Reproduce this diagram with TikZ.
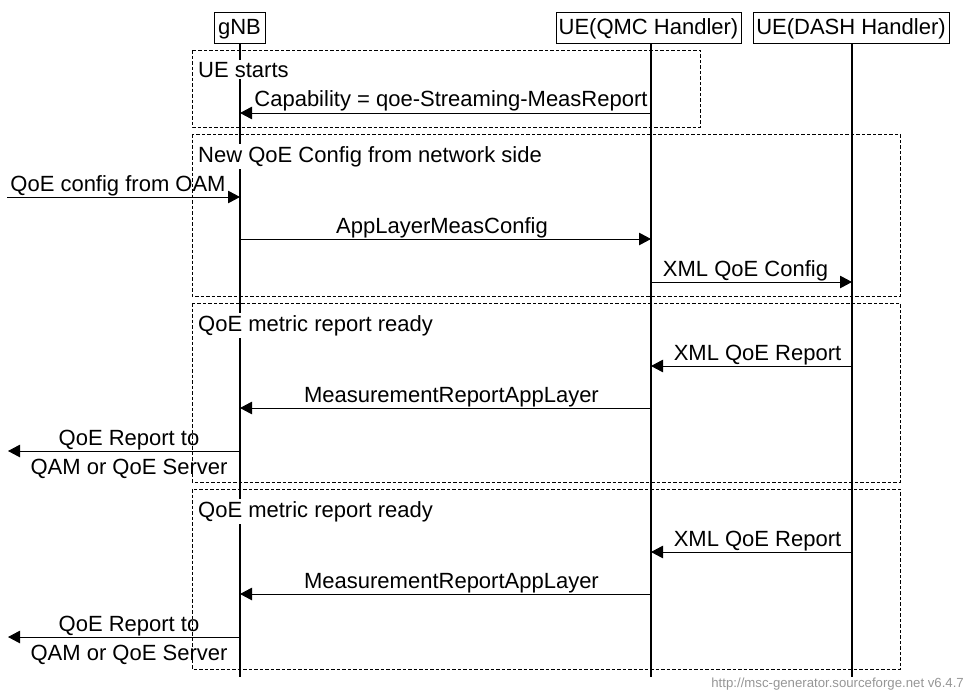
\documentclass[tikz,border=0pt]{standalone}
\usepackage{fontspec}
\setmainfont{Liberation Sans}
\usetikzlibrary{arrows.meta}
\definecolor{footgray}{RGB}{150,150,150}
\begin{document}
\begin{tikzpicture}[x=1pt,y=-1pt,
  every node/.style={font=\fontsize{22}{25}\selectfont},
  entity/.style={draw,line width=1pt,minimum height=31pt,inner sep=0pt,anchor=center},
  lifeline/.style={line width=1.2pt},
  msg/.style={line width=1pt,-{Triangle[length=12pt,width=12.5pt]}},
  lbl/.style={anchor=base,inner sep=0pt},
  boxlbl/.style={anchor=base west,inner sep=2pt,fill=white},
  grp/.style={draw,line width=1pt,dash pattern=on 3.5pt off 2pt},
]
\useasboundingbox (0,0) rectangle (974,696);

% lifelines
\coordinate (gTop) at (240,43);  \coordinate (gBot) at (240,677);
\coordinate (qTop) at (651,43);  \coordinate (qBot) at (651,677);
\coordinate (dTop) at (852,43);  \coordinate (dBot) at (852,677);
\draw[lifeline] (gTop) -- (gBot);
\draw[lifeline] (qTop) -- (qBot);
\draw[lifeline] (dTop) -- (dBot);

% entity heads
\node[entity,minimum width=51pt,fill=white] (gnb) at (239.5,27.5) {};
\node[lbl] (gnbT) at (239.5,34) {gNB};
\node[entity,minimum width=185pt,fill=white] (qmc) at (648.5,27.5) {};
\node[lbl] (qmcT) at (648.5,34) {UE(QMC Handler)};
\node[entity,minimum width=196pt,fill=white] (dash) at (851,27.5) {};
\node[lbl] (dashT) at (851,34) {UE(DASH Handler)};

% group boxes
\draw[grp] (192,50) rectangle (700,127);
\draw[grp] (192,134) rectangle (900,296);
\draw[grp] (192,303) rectangle (900,482);
\draw[grp] (192,489) rectangle (900,669);

\node[boxlbl] (b1) at (196,77) {UE starts};
\node[boxlbl] (b2) at (196,162) {New QoE Config from network side};
\node[boxlbl] (b3) at (196,331) {QoE metric report ready};
\node[boxlbl] (b4) at (196,517) {QoE metric report ready};

% message end points
\coordinate (capS) at (651,113); \coordinate (capE) at (240,113);
\coordinate (oamS) at (7,197);   \coordinate (oamE) at (240,197);
\coordinate (almS) at (240,239); \coordinate (almE) at (651,239);
\coordinate (xcS) at (651,282);  \coordinate (xcE) at (852,282);
\coordinate (xrS) at (852,366);  \coordinate (xrE) at (651,366);
\coordinate (mrS) at (651,408);  \coordinate (mrE) at (240,408);
\coordinate (qrS) at (240,451);  \coordinate (qrE) at (8,451);
\coordinate (xr2S) at (852,552); \coordinate (xr2E) at (651,552);
\coordinate (mr2S) at (651,594); \coordinate (mr2E) at (240,594);
\coordinate (qr2S) at (240,637); \coordinate (qr2E) at (8,637);

\draw[msg] (capS) -- (capE);
\draw[msg] (oamS) -- (oamE);
\draw[msg] (almS) -- (almE);
\draw[msg] (xcS) -- (xcE);
\draw[msg] (xrS) -- (xrE);
\draw[msg] (mrS) -- (mrE);
\draw[msg] (qrS) -- (qrE);
\draw[msg] (xr2S) -- (xr2E);
\draw[msg] (mr2S) -- (mr2E);
\draw[msg] (qr2S) -- (qr2E);

% message labels
\node[lbl] (capL) at (451,106) {Capability = qoe-Streaming-MeasReport};
\node[lbl] (oamL) at (118,191) {QoE config from OAM};
\node[lbl] (almL) at (442,233) {AppLayerMeasConfig};
\node[lbl] (xcL) at (745.5,276) {XML QoE Config};
\node[lbl] (xrL) at (757.5,360) {XML QoE Report};
\node[lbl] (mrL) at (451.5,402) {MeasurementReportAppLayer};
\node[lbl] (qrL1) at (129,445) {QoE Report to};
\node[lbl] (qrL2) at (129,474) {QAM or QoE Server};
\node[lbl] (xr2L) at (757.5,546) {XML QoE Report};
\node[lbl] (mr2L) at (451.5,588) {MeasurementReportAppLayer};
\node[lbl] (qr2L1) at (129,631) {QoE Report to};
\node[lbl] (qr2L2) at (129,660) {QAM or QoE Server};

% footer
\node[anchor=base east,inner sep=0pt,font=\fontsize{13.2}{15}\selectfont,text=footgray] (foot) at (964,687) {http://msc-generator.sourceforge.net v6.4.7};
\end{tikzpicture}
\end{document}
